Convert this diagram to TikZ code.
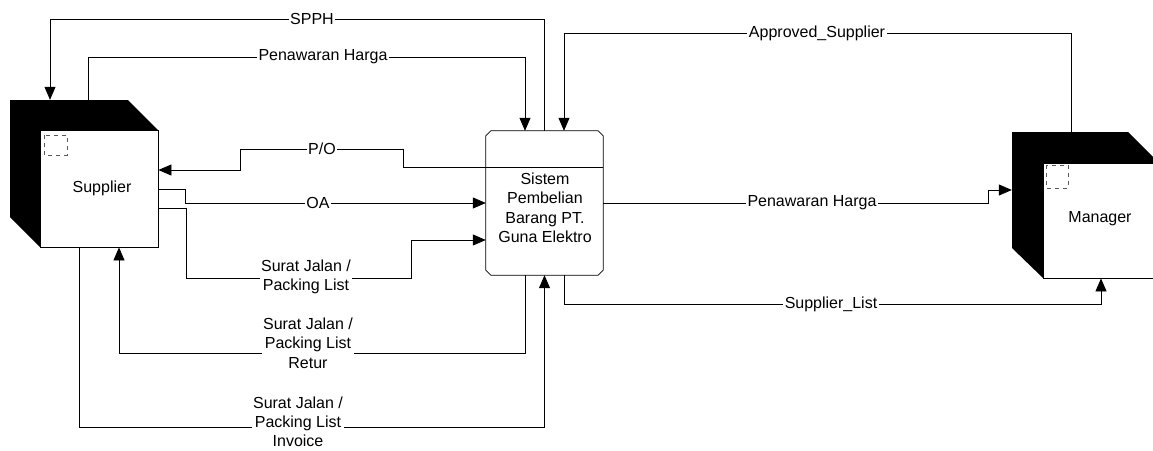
\documentclass[tikz,border=0pt]{standalone}
\usepackage{fontspec}
\setmainfont{Liberation Sans}
\usetikzlibrary{arrows.meta}
\begin{document}
\begin{tikzpicture}[x=1pt,y=-1pt,
  every node/.style={font=\fontsize{16}{19.5}\selectfont},
  conn/.style={line width=0.8pt},
  arr/.style={conn,-{Triangle[length=13pt,width=11pt]}},
  lbl/.style={fill=white,inner xsep=1.5pt,inner ysep=0pt,align=center},
  face/.style={draw,fill=white,line width=0.8pt,inner sep=0pt},
  ghost/.style={inner sep=0pt},
  dashbox/.style={draw=black!65,line width=0.8pt,dash pattern=on 4pt off 4pt}]
\clip (0,0) rectangle (1153,450);
\fill[white] (0,0) rectangle (1153,450);
% Supplier
\fill[black] (10,100) -- (128,100) -- (158,130) -- (158,247) -- (40,247) -- (10,217) -- cycle;
\node[face,minimum width=118pt,minimum height=117pt] (sup) at (99,188.5) {};
\node at (102,188) {Supplier};
\node[ghost,minimum width=148pt,minimum height=147pt] (supback) at (84,173.5) {};
\draw[dashbox] (44,135) rectangle (67,155);
% Manager
\fill[black] (1012,132) -- (1128,132) -- (1159,163) -- (1159,278) -- (1043,278) -- (1012,248) -- cycle;
\node[face,minimum width=116pt,minimum height=115pt] (mgr) at (1101,220.5) {};
\node at (1100,219) {Manager};
\node[ghost,minimum width=147pt,minimum height=146pt] (mgrback) at (1085.5,205) {};
\draw[dashbox] (1046,165) rectangle (1068,188);
% Process
\node[ghost,minimum width=117pt,minimum height=144pt] (proc) at (544.5,203) {};
\draw[conn] ([xshift=5pt]proc.north west) -- ([xshift=-5pt]proc.north east)
  -- ([yshift=-5pt]proc.north east) -- ([yshift=5pt]proc.south east)
  -- ([xshift=-5pt]proc.south east) -- ([xshift=5pt]proc.south west)
  -- ([yshift=5pt]proc.south west) -- ([yshift=-5pt]proc.north west) -- cycle;
\coordinate (dv) at (0,167);
\draw[conn] (proc.west |- dv) -- (proc.east |- dv);
\node[align=center] (ptext) at (545,208) {Sistem\\Pembelian\\Barang PT.\\Guna Elektro};
% bend points
\coordinate (sp) at (50,19);
\coordinate (ph) at (88,57);
\coordinate (ap) at (1071,33);
\coordinate (po1) at (403,149);
\coordinate (po2) at (240,170);
\coordinate (oa) at (185,189);
\coordinate (sj1) at (186,208);
\coordinate (sj2) at (411,278);
\coordinate (sjy) at (0,240);
\coordinate (rt) at (119,353);
\coordinate (iv) at (79,427);
\coordinate (sl) at (1101,304);
\coordinate (pr) at (988,190);
% connectors
\draw[arr] (proc.north) |- (sp) -- (sp |- supback.north);
\draw[arr] (ph |- supback.north) -- (ph) -| ([xshift=-19.5pt]proc.north);
\draw[arr] (ap |- mgrback.north) -- (ap) -| ([xshift=19.5pt]proc.north);
\draw[arr] (proc.west |- dv) -| (po1) -| (po2) -- (po2 -| sup.east);
\draw[arr] (sup.east |- oa) -- (oa) |- (proc.west);
\draw[arr] (sup.east |- sj1) -- (sj1) |- (sj2) |- (proc.west |- sjy);
\draw[arr] ([xshift=-19.5pt]proc.south) |- (rt) -- (rt |- sup.south);
\draw[arr] (iv |- sup.south) -- (iv) -| (proc.south);
\draw[arr] ([xshift=19.5pt]proc.south) |- (sl) -- (mgr.south);
\draw[arr] (proc.east) -| (pr) -- (pr -| mgrback.west);
% labels
\node[lbl] (l1) at (312,19) {SPPH};
\node[lbl] (l2) at (323,57) {Penawaran Harga};
\node[lbl] (l3) at (817,33) {Approved\_Supplier};
\node[lbl] (l4) at (322,149) {P/O};
\node[lbl] (l5) at (318,203) {OA};
\node[lbl] (l6) at (306,277) {Surat Jalan /\\Packing List};
\node[lbl] (l7) at (308,343) {Surat Jalan /\\Packing List\\Retur};
\node[lbl,font=\fontsize{16}{19}\selectfont] (l8) at (298,422) {Surat Jalan /\\Packing List\\Invoice};
\node[lbl] (l9) at (812,203) {Penawaran Harga};
\node[lbl] (l10) at (831,304) {Supplier\_List};
\end{tikzpicture}
\end{document}
